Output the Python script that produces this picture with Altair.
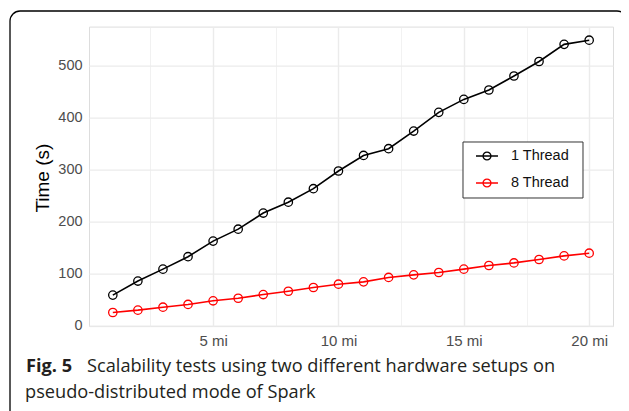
import altair as alt
import pandas as pd

miles = list(range(1, 21))
thread1 = [58, 85, 108, 132, 162, 185, 216, 237, 263, 297, 327, 340, 374, 410, 435, 453, 480, 508, 541, 549]
thread8 = [24.5, 29, 34.7, 40, 47, 52, 59, 65.5, 72.6, 79, 83.5, 92, 97, 101.5, 108, 115, 120, 126.6, 133.5, 138.7]
series = ["1 Thread", "8 Thread"]
colors = ["black", "red"]
x_ticks = [2.5, 5, 7.5, 10, 12.5, 15, 17.5, 20]
y_ticks = [0, 50, 100, 150, 200, 250, 300, 350, 400, 450, 500, 550]
caption_bold = "Fig. 5"
caption_line1 = "Scalability tests using two different hardware setups on"
caption_line2 = "pseudo-distributed mode of Spark"

rows = []
for m, a, b in zip(miles, thread1, thread8):
    rows.append({"miles": m, "time": a, "series": series[0]})
    rows.append({"miles": m, "time": b, "series": series[1]})
df = pd.DataFrame(rows)

W, H = 524, 299.5

sym_path = "M-1,0H1M-0.36,0A0.36,0.36,0,1,1,0.36,0A0.36,0.36,0,1,1,-0.36,0"
legend = alt.Legend(
    title=None, orient="none", legendX=374, legendY=114.4,
    symbolType=sym_path, symbolSize=484, symbolStrokeWidth=1.3,
    symbolFillColor="transparent", symbolOffset=9,
    labelFont="Liberation Sans", labelFontSize=14.5, labelColor="#111111",
    labelOffset=12, rowPadding=8, padding=3,
    strokeColor="transparent", fillColor="transparent",
)
color = alt.Color("series:N", scale=alt.Scale(domain=series, range=colors), legend=legend)

xenc = alt.X("miles:Q", scale=alt.Scale(domain=[0.05, 20.95], nice=False, zero=False),
             axis=alt.Axis(values=x_ticks, title=None, ticks=False, domain=False,
                           labelExpr="datum.value % 5 === 0 ? datum.value + ' mi' : ''",
                           labelFont="Liberation Sans", labelFontSize=15, labelColor="#4d4d4d",
                           labelPadding=7, gridColor="#ebebeb",
                           gridWidth={"condition": {"test": "datum.value % 5 === 0", "value": 1.4}, "value": 0.7}))
yenc = alt.Y("time:Q", scale=alt.Scale(domain=[-1.7, 575.2], nice=False, zero=False),
             axis=alt.Axis(values=y_ticks, title="Time (s)", ticks=False, domain=False,
                           labelExpr="datum.value % 100 === 0 ? datum.value : ''",
                           labelFont="Liberation Sans", labelFontSize=14.5, labelColor="#4d4d4d",
                           labelPadding=7, gridColor="#ebebeb",
                           gridWidth={"condition": {"test": "datum.value % 100 === 0", "value": 1.4}, "value": 0.7},
                           titleFont="Liberation Sans", titleFontSize=19, titleFontWeight="normal",
                           titleColor="black", titleAngle=270, titleX=-47, titleY=151,
                           titleAlign="center", titleBaseline="middle"))

base = alt.Chart(df)
lines = base.mark_line(strokeWidth=1.6).encode(x=xenc, y=yenc, color=color, detail="series:N")
points = base.mark_point(filled=False, size=70, strokeWidth=1.3, opacity=1).encode(
    x="miles:Q", y="time:Q", color=color)

one = alt.Data(values=[{"a": 1}])
frame = alt.Chart(one).mark_rect(fill="transparent", stroke="black", strokeWidth=1.3, cornerRadius=10).encode(
    x=alt.value(-79), x2=alt.value(538), y=alt.value(-15.6), y2=alt.value(420))
legend_box = alt.Chart(one).mark_rect(fill="white", stroke="#333333", strokeWidth=1).encode(
    x=alt.value(374), x2=alt.value(494), y=alt.value(115.4), y2=alt.value(171.4))

cap_font = "Open Sans"
cap_size = 18.2
cap1b = alt.Chart(alt.Data(values=[{"t": caption_bold}])).mark_text(
    font=cap_font, fontSize=cap_size, fontWeight="bold", align="left", baseline="alphabetic", color="#231f20"
).encode(text="t:N", x=alt.value(-63), y=alt.value(345.4))
cap1 = alt.Chart(alt.Data(values=[{"t": caption_line1}])).mark_text(
    font=cap_font, fontSize=cap_size, align="left", baseline="alphabetic", color="#231f20"
).encode(text="t:N", x=alt.value(-2), y=alt.value(345.4))
cap2 = alt.Chart(alt.Data(values=[{"t": caption_line2}])).mark_text(
    font=cap_font, fontSize=cap_size, align="left", baseline="alphabetic", color="#231f20"
).encode(text="t:N", x=alt.value(-64), y=alt.value(371.4))

chart = alt.layer(frame, lines, points, legend_box, cap1b, cap1, cap2).properties(
    width=W, height=H,
    padding={"left": 81, "top": 18.6, "right": 8, "bottom": 85},
    autosize=alt.AutoSizeParams(type="none"),
).configure_view(stroke=None).configure(background="white")

chart.save("out.html", embed_options={"renderer": "svg", "actions": False})
